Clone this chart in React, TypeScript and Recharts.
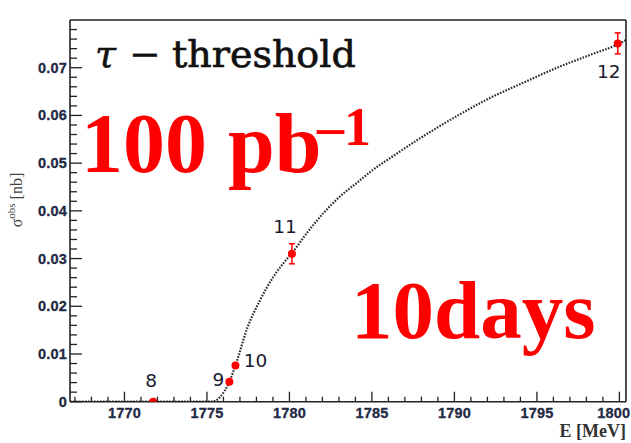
/**
 * Tau threshold scan chart
 * Observed cross section vs beam energy
 */
import { ComposedChart, Line, Scatter, ErrorBar, XAxis, YAxis, ReferenceLine, Customized } from 'recharts'

// dotted expectation curve
const curveEnergy = [
  1766.7, 1775.3, 1775.8, 1776.36, 1776.73, 1777.44, 1778.24, 1779.05, 1779.65, 1780.12,
  1781.07, 1782.08, 1783.09, 1784.1, 1785.1, 1786.12, 1788.14, 1790.16, 1792.18, 1794.2,
  1796.22, 1798.24, 1799.9, 1800.4,
]
const curveSigma = [
  0, 0, 0.001, 0.0042, 0.0076, 0.0154, 0.0214, 0.0263, 0.0291, 0.031,
  0.0354, 0.0396, 0.0431, 0.0459, 0.0487, 0.0511, 0.0557, 0.0599, 0.0637, 0.0669,
  0.07, 0.0727, 0.0749, 0.0758,
]

// scan points
const pointEnergy = [1771.74, 1776.36, 1776.73, 1780.15, 1799.9]
const pointSigma = [0, 0.0042, 0.0076, 0.031, 0.0751]
const pointError = [0, 0, 0, 0.0021, 0.0022]
const pointLabels = ['8', '9', '10', '11', '12']

const xTicks = [
  1767, 1768, 1769, 1770, 1771, 1772, 1773, 1774, 1775, 1776, 1777, 1778, 1779, 1780,
  1781, 1782, 1783, 1784, 1785, 1786, 1787, 1788, 1789, 1790, 1791, 1792, 1793, 1794,
  1795, 1796, 1797, 1798, 1799, 1800,
]
const yTicks = [
  0, 0.002, 0.004, 0.006, 0.008, 0.01, 0.012, 0.014, 0.016, 0.018, 0.02, 0.022, 0.024,
  0.026, 0.028, 0.03, 0.032, 0.034, 0.036, 0.038, 0.04, 0.042, 0.044, 0.046, 0.048, 0.05,
  0.052, 0.054, 0.056, 0.058, 0.06, 0.062, 0.064, 0.066, 0.068, 0.07, 0.072, 0.074, 0.076, 0.078,
]

const X_DOMAIN: [number, number] = [1766.7, 1800.4]
const Y_DOMAIN: [number, number] = [0, 0.08]

const curveData = curveEnergy.map((E, i) => ({ E, sigma: curveSigma[i] }))
const pointData = pointEnergy.map((E, i) => ({
  E,
  sigma: pointSigma[i],
  err: pointError[i],
  label: pointLabels[i],
}))

// where each point number sits relative to its marker
const LABEL_OFFSET: Record<string, [number, number]> = {
  '8': [-2, -15],
  '9': [-11, 4],
  '10': [20, 2],
  '11': [-7, -21],
  '12': [-9, 35],
}

const AXIS = '#222'
const TICK_TEXT = '#1f2a44'
const TICK_FONT = 'Liberation Sans, Arial, sans-serif'

function XTick(props: any) {
  const { x, y, payload } = props
  const major = payload.value % 5 === 0
  const last = payload.value === 1800
  return (
    <g>
      <line x1={x} x2={x} y1={y} y2={y - (major ? 10 : 5)} stroke={AXIS} strokeWidth={1.3} />
      {major && (
        <text
          x={last ? x + 11 : x}
          y={y + 16.5}
          textAnchor={last ? 'end' : 'middle'}
          fontFamily={TICK_FONT}
          fontWeight="bold"
          fontSize={14.5}
          letterSpacing={0.2}
          fill={TICK_TEXT}
          stroke={TICK_TEXT}
          strokeWidth={0.3}
        >
          {payload.value}
        </text>
      )}
    </g>
  )
}

function YTick(props: any) {
  const { x, y, payload } = props
  const v = payload.value
  const major = Math.abs(v * 100 - Math.round(v * 100)) < 1e-6
  return (
    <g>
      <line x1={x} x2={x + (major ? 12 : 7)} y1={y} y2={y} stroke={AXIS} strokeWidth={1.3} />
      {major && (
        <text
          x={x - 3}
          y={y + 5}
          textAnchor="end"
          fontFamily={TICK_FONT}
          fontWeight="bold"
          fontSize={14.5}
          letterSpacing={0.2}
          fill={TICK_TEXT}
          stroke={TICK_TEXT}
          strokeWidth={0.3}
        >
          {v === 0 ? '0' : v.toFixed(2)}
        </text>
      )}
    </g>
  )
}

function PointShape(props: any) {
  const { cx, cy, payload } = props
  const [dx, dy] = LABEL_OFFSET[payload.label] || [0, -12]
  return (
    <g>
      <circle cx={cx} cy={cy} r={4} fill="#ff0000" />
      <text
        x={cx + dx}
        y={cy + dy}
        textAnchor="middle"
        fontFamily="DejaVu Sans, sans-serif"
        fontSize={18.5}
        fill="#1a1a2e"
      >
        {payload.label}
      </text>
    </g>
  )
}

function Annotations() {
  const serif = 'Liberation Serif, Times New Roman, serif'
  const titleFont = 'DejaVu Serif, serif'
  return (
    <g>
      {/* title */}
      <text x={95} y={67} fontFamily={titleFont} fontStyle="italic" fontSize={38} fill="#111" stroke="#111" strokeWidth={0.5}>
        τ
      </text>
      <text x={129} y={67} fontFamily={titleFont} fontSize={38} fill="#111" stroke="#111" strokeWidth={0.3}>
        −
      </text>
      <text x={172} y={67} fontFamily={titleFont} fontSize={38} fill="#111" stroke="#111" strokeWidth={0.7}>
        threshold
      </text>

      {/* red overlay labels */}
      <text x={81} y={172} fontFamily={serif} fontWeight="bold" fontSize={84} fill="#ff0000">
        100 pb
      </text>
      <text x={317} y={145} fontFamily={serif} fontWeight="bold" fontSize={54} fill="#ff0000">
        –1
      </text>
      <text x={351} y={338} fontFamily={serif} fontWeight="bold" fontSize={83} fill="#ff0000">
        10days
      </text>

      {/* axis titles */}
      <text
        x={22}
        y={200}
        transform="rotate(-90, 22, 200)"
        textAnchor="middle"
        fontFamily={serif}
        fontSize={16}
        fill="#444"
      >
        σ
        <tspan fontSize={11} dy={-7}>obs</tspan>
        <tspan dy={7}> [nb]</tspan>
      </text>
      <text x={626} y={437} textAnchor="end" fontFamily={serif} fontWeight="bold" fontSize={18} fill="#333">
        E [MeV]
      </text>
    </g>
  )
}

export default function App() {
  return (
    <div style={{ position: 'absolute', left: 0, top: 0, width: 631, height: 443, background: '#fff' }}>
      <ComposedChart width={631} height={443} margin={{ top: 20, right: 5, bottom: 0, left: 0 }}>
        <XAxis
          type="number"
          dataKey="E"
          domain={X_DOMAIN}
          ticks={xTicks}
          interval={0}
          allowDataOverflow
          height={41.3}
          tickSize={0}
          tickMargin={0}
          tickLine={false}
          axisLine={{ stroke: AXIS, strokeWidth: 1.6 }}
          tick={<XTick />}
        />
        <YAxis
          type="number"
          dataKey="sigma"
          domain={Y_DOMAIN}
          ticks={yTicks}
          interval={0}
          allowDataOverflow
          width={70}
          tickSize={0}
          tickMargin={0}
          tickLine={false}
          axisLine={{ stroke: AXIS, strokeWidth: 1.6 }}
          tick={<YTick />}
        />
        <ReferenceLine y={0.08} stroke={AXIS} strokeWidth={1.6} />
        <ReferenceLine x={1800.4} stroke={AXIS} strokeWidth={1.6} />
        <Line
          data={curveData}
          dataKey="sigma"
          type="monotone"
          stroke="#2a2a2a"
          strokeWidth={2.2}
          strokeDasharray="1.6 1.4"
          dot={false}
          activeDot={false}
          isAnimationActive={false}
        />
        <Scatter data={pointData} dataKey="sigma" shape={<PointShape />} isAnimationActive={false}>
          <ErrorBar dataKey="err" direction="y" width={3} stroke="#ff0000" strokeWidth={1.5} />
        </Scatter>
        <Customized component={<Annotations />} />
      </ComposedChart>
    </div>
  )
}
